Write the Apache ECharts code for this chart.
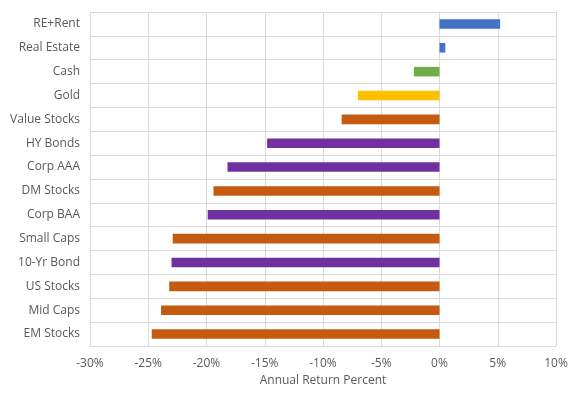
<!DOCTYPE html>
<html><head><meta charset="utf-8">
<script src="https://cdn.jsdelivr.net/npm/echarts@6/dist/echarts.min.js"></script>
<style>html,body{margin:0;padding:0;background:#fff}#c{width:576px;height:395px}</style>
</head><body><div id="c"></div>
<script>
const categories = ["RE+Rent","Real Estate","Cash","Gold","Value Stocks","HY Bonds","Corp AAA","DM Stocks","Corp BAA","Small Caps","10-Yr Bond","US Stocks","Mid Caps","EM Stocks"];
const values = [5.2, 0.5, -2.2, -7.0, -8.4, -14.8, -18.2, -19.4, -19.9, -22.9, -23.0, -23.2, -23.9, -24.7];
const groups = ["re","re","cash","gold","stock","bond","bond","stock","bond","stock","bond","stock","stock","stock"];
const groupColors = {re:"#4472C4", cash:"#70AD47", gold:"#FFC000", stock:"#C55A11", bond:"#7030A0"};
const xTicks = [-30,-20,-10,0,10];

const chart = echarts.init(document.getElementById('c'));
const font = "'Open Sans', 'Liberation Sans', sans-serif";
chart.setOption({
  animation:false,
  grid:{left:90,right:20,top:12,bottom:49},
  xAxis:{type:'value',min:-30,max:10,interval:5,
    name:'Annual Return Percent',nameLocation:'middle',nameGap:29,
    nameTextStyle:{color:'#595959',fontSize:12,fontFamily:font},
    axisLabel:{formatter:v=>v+'%',color:'#595959',fontSize:12,fontFamily:font,margin:12},
    axisLine:{show:false},axisTick:{show:false},
    splitLine:{show:true,lineStyle:{color:'#D9D9D9',width:1}}},
  yAxis:{type:'category',data:categories,inverse:true,
    axisLabel:{color:'#595959',fontSize:12,fontFamily:font,margin:10},
    axisLine:{show:true,lineStyle:{color:'#D9D9D9'}},axisTick:{show:false},
    splitLine:{show:true,lineStyle:{color:'#D9D9D9',width:1}},
    boundaryGap:true},
  series:[{type:'bar',barWidth:'40%',
    data:values.map((v,i)=>({value:v,itemStyle:{color:groupColors[groups[i]]}}))}]
});
</script></body></html>
